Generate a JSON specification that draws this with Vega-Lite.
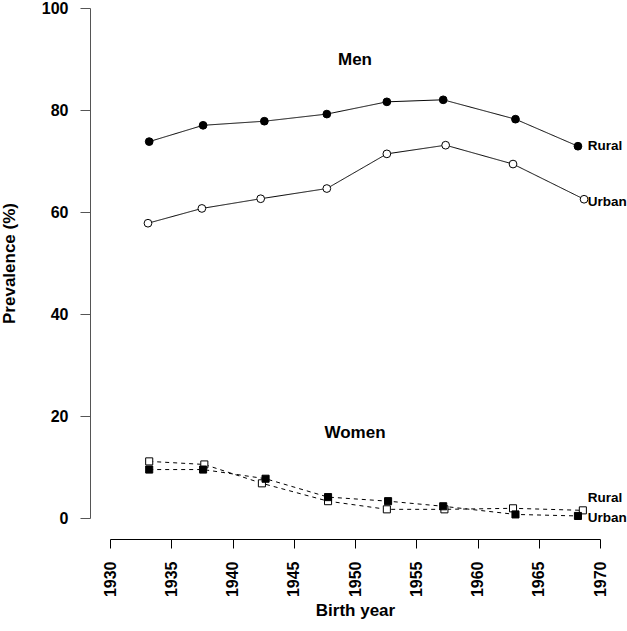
{
  "$schema": "https://vega.github.io/schema/vega-lite/v6.json",
  "autosize": "none",
  "width": 490,
  "height": 510,
  "padding": {"left": 110, "top": 8, "right": 27, "bottom": 113},
  "background": "white",
  "config": {
    "font": "Liberation Sans",
    "view": {"stroke": null},
    "axis": {"grid": false}
  },
  "datasets": {
    "prev": [
      {"sex": "Men", "area": "Rural", "series": "Men Rural", "year": 1933.2, "prev": 73.8},
      {"sex": "Men", "area": "Rural", "series": "Men Rural", "year": 1937.6, "prev": 77.0},
      {"sex": "Men", "area": "Rural", "series": "Men Rural", "year": 1942.6, "prev": 77.8},
      {"sex": "Men", "area": "Rural", "series": "Men Rural", "year": 1947.7, "prev": 79.2},
      {"sex": "Men", "area": "Rural", "series": "Men Rural", "year": 1952.6, "prev": 81.6},
      {"sex": "Men", "area": "Rural", "series": "Men Rural", "year": 1957.2, "prev": 82.0},
      {"sex": "Men", "area": "Rural", "series": "Men Rural", "year": 1963.1, "prev": 78.2},
      {"sex": "Men", "area": "Rural", "series": "Men Rural", "year": 1968.2, "prev": 72.9},
      {"sex": "Men", "area": "Urban", "series": "Men Urban", "year": 1933.1, "prev": 57.8},
      {"sex": "Men", "area": "Urban", "series": "Men Urban", "year": 1937.5, "prev": 60.7},
      {"sex": "Men", "area": "Urban", "series": "Men Urban", "year": 1942.3, "prev": 62.6},
      {"sex": "Men", "area": "Urban", "series": "Men Urban", "year": 1947.7, "prev": 64.6},
      {"sex": "Men", "area": "Urban", "series": "Men Urban", "year": 1952.6, "prev": 71.4},
      {"sex": "Men", "area": "Urban", "series": "Men Urban", "year": 1957.4, "prev": 73.1},
      {"sex": "Men", "area": "Urban", "series": "Men Urban", "year": 1962.9, "prev": 69.4},
      {"sex": "Men", "area": "Urban", "series": "Men Urban", "year": 1968.7, "prev": 62.5},
      {"sex": "Women", "area": "Rural", "series": "Women Rural", "year": 1933.2, "prev": 11.1},
      {"sex": "Women", "area": "Rural", "series": "Women Rural", "year": 1937.7, "prev": 10.5},
      {"sex": "Women", "area": "Rural", "series": "Women Rural", "year": 1942.4, "prev": 6.8},
      {"sex": "Women", "area": "Rural", "series": "Women Rural", "year": 1947.8, "prev": 3.3},
      {"sex": "Women", "area": "Rural", "series": "Women Rural", "year": 1952.6, "prev": 1.7},
      {"sex": "Women", "area": "Rural", "series": "Women Rural", "year": 1957.3, "prev": 1.7},
      {"sex": "Women", "area": "Rural", "series": "Women Rural", "year": 1962.9, "prev": 1.9},
      {"sex": "Women", "area": "Rural", "series": "Women Rural", "year": 1968.6, "prev": 1.5},
      {"sex": "Women", "area": "Urban", "series": "Women Urban", "year": 1933.2, "prev": 9.5},
      {"sex": "Women", "area": "Urban", "series": "Women Urban", "year": 1937.6, "prev": 9.5},
      {"sex": "Women", "area": "Urban", "series": "Women Urban", "year": 1942.7, "prev": 7.7},
      {"sex": "Women", "area": "Urban", "series": "Women Urban", "year": 1947.8, "prev": 4.1},
      {"sex": "Women", "area": "Urban", "series": "Women Urban", "year": 1952.7, "prev": 3.3},
      {"sex": "Women", "area": "Urban", "series": "Women Urban", "year": 1957.2, "prev": 2.3},
      {"sex": "Women", "area": "Urban", "series": "Women Urban", "year": 1963.1, "prev": 0.7},
      {"sex": "Women", "area": "Urban", "series": "Women Urban", "year": 1968.2, "prev": 0.4}
    ],
    "labels": [
      {"label": "Rural", "year": 1968.6, "prev": 72.9},
      {"label": "Urban", "year": 1968.6, "prev": 61.9},
      {"label": "Rural", "year": 1968.6, "prev": 3.9},
      {"label": "Urban", "year": 1968.6, "prev": 0.0}
    ],
    "titles": [
      {"label": "Men", "year": 1950, "prev": 89.8},
      {"label": "Women", "year": 1950, "prev": 16.6}
    ]
  },
  "layer": [
    {
      "data": {"name": "prev"},
      "mark": {"type": "line", "color": "black", "strokeWidth": 1},
      "encoding": {
        "x": {
          "field": "year", "type": "quantitative",
          "scale": {"domain": [1930, 1970], "nice": false, "zero": false},
          "axis": {
            "values": [1930, 1935, 1940, 1945, 1950, 1955, 1960, 1965, 1970],
            "format": "d",
            "offset": 21,
            "tickSize": 9,
            "domainColor": "black",
            "tickColor": "black",
            "domainWidth": 1,
            "tickWidth": 1,
            "labelAngle": 270,
            "labelPadding": 13,
            "labelFontSize": 16,
            "labelFontWeight": "bold",
            "labelColor": "black",
            "title": "Birth year",
            "titleFontSize": 17,
            "titleFontWeight": "bold",
            "titleColor": "black",
            "titleY": 63
          }
        },
        "y": {
          "field": "prev", "type": "quantitative",
          "scale": {"domain": [0, 100], "nice": false},
          "axis": {
            "values": [0, 20, 40, 60, 80, 100],
            "offset": 20,
            "tickSize": 10,
            "domainColor": "#555555",
            "tickColor": "#555555",
            "labelPadding": 12,
            "labelFontSize": 16,
            "labelFontWeight": "bold",
            "labelColor": "black",
            "title": "Prevalence (%)",
            "titleFontSize": 17,
            "titleFontWeight": "bold",
            "titleColor": "black",
            "titleX": -72
          }
        },
        "detail": {"field": "series"},
        "strokeDash": {
          "field": "sex", "type": "nominal",
          "scale": {"domain": ["Men", "Women"], "range": [[1, 0], [4, 4]]},
          "legend": null
        }
      }
    },
    {
      "data": {"name": "prev"},
      "mark": {"type": "point", "filled": true, "stroke": "black", "strokeWidth": 1, "opacity": 1},
      "encoding": {
        "x": {"field": "year", "type": "quantitative"},
        "y": {"field": "prev", "type": "quantitative"},
        "shape": {
          "field": "sex", "type": "nominal",
          "scale": {"domain": ["Men", "Women"], "range": ["circle", "square"]},
          "legend": null
        },
        "size": {
          "field": "sex", "type": "nominal",
          "scale": {"domain": ["Men", "Women"], "range": [60, 50]},
          "legend": null
        },
        "fill": {
          "field": "series", "type": "nominal",
          "scale": {"domain": ["Men Rural", "Men Urban", "Women Rural", "Women Urban"], "range": ["black", "white", "white", "black"]},
          "legend": null
        }
      }
    },
    {
      "data": {"name": "labels"},
      "mark": {"type": "text", "align": "left", "baseline": "middle", "dx": 5, "fontSize": 13.5, "fontWeight": "bold", "color": "black"},
      "encoding": {
        "x": {"field": "year", "type": "quantitative"},
        "y": {"field": "prev", "type": "quantitative"},
        "text": {"field": "label"}
      }
    },
    {
      "data": {"name": "titles"},
      "mark": {"type": "text", "align": "center", "baseline": "middle", "fontSize": 17, "fontWeight": "bold", "color": "black"},
      "encoding": {
        "x": {"field": "year", "type": "quantitative"},
        "y": {"field": "prev", "type": "quantitative"},
        "text": {"field": "label"}
      }
    }
  ]
}
